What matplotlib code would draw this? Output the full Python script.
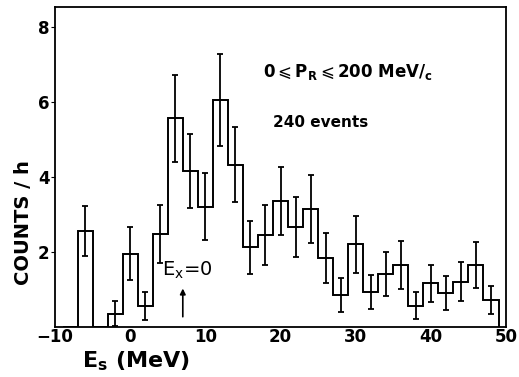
import numpy as np
import matplotlib.pyplot as plt

# bin centres (MeV), 2 MeV wide bins
centers = [-8, -6, -4, -2, 0, 2, 4, 6, 8, 10, 12, 14, 16, 18, 20, 22, 24,
           26, 28, 30, 32, 34, 36, 38, 40, 42, 44, 46, 48]
counts = [0.0, 2.55, 0.0, 0.35, 1.95, 0.56, 2.47, 5.56, 4.16, 3.21, 6.05, 4.32, 2.12,
          2.45, 3.36, 2.67, 3.15, 1.83, 0.85, 2.2, 0.93, 1.41, 1.65, 0.57,
          1.16, 0.91, 1.21, 1.65, 0.72]
errors = [0.0, 0.67, 0.0, 0.33, 0.71, 0.37, 0.77, 1.15, 0.99, 0.9, 1.22, 1.0, 0.71,
          0.8, 0.91, 0.8, 0.9, 0.67, 0.45, 0.75, 0.45, 0.58, 0.63, 0.36,
          0.5, 0.45, 0.53, 0.62, 0.38]
xticks = [-10, 0, 10, 20, 30, 40, 50]
yticks = [2, 4, 6, 8]

centers = np.array(centers, dtype=float)
counts = np.array(counts)
errors = np.array(errors)

fig = plt.figure(figsize=(5.19, 3.77), dpi=100)
ax = fig.add_axes([0.106, 0.1326, 0.869, 0.849])

# histogram outline
edges = np.append(centers - 1, centers[-1] + 1)
ax.stairs(counts, edges, color='black', lw=1.4, baseline=0)

m = errors > 0
ax.errorbar(centers[m], counts[m], yerr=errors[m], fmt='none', ecolor='black',
            elinewidth=1.3, capsize=2, capthick=1.3)

ax.set_xlim(-10, 50)
ax.set_ylim(0, 8.53)
ax.set_xticks(xticks)
ax.set_yticks(yticks)
ax.tick_params(axis='x', direction='out', length=0, labelsize=12, pad=1)
ax.tick_params(axis='y', direction='out', length=3, labelsize=12, pad=1)
for lab in ax.get_xticklabels() + ax.get_yticklabels():
    lab.set_fontweight('bold')
for s in ax.spines.values():
    s.set_linewidth(1.3)

ax.text(28.9, 6.8, r'0$\leqslant$P$_\mathregular{R}$$\leqslant$200 MeV/$_\mathregular{c}$',
        ha='center', va='center', fontsize=12, fontweight='bold')
ax.text(25.4, 5.45, '240 events', ha='center', va='center', fontsize=11,
        fontweight='bold')
ax.text(4.2, 1.5, r'E$_\mathregular{x}$=0', ha='left', va='center', fontsize=14)
ax.annotate('', xy=(7, 1.1), xytext=(7, 0.2),
            arrowprops=dict(arrowstyle='-|>', color='black', lw=1.2,
                            mutation_scale=8))

fig.text(0.046, 0.41, 'COUNTS / h', rotation=90, ha='center', va='center',
         fontsize=14, fontweight='bold')
fig.text(0.262, 0.042, r'E$_\mathregular{s}$ (MeV)', ha='center', va='center',
         fontsize=16, fontweight='bold')

fig.savefig('out.png', dpi=100)
